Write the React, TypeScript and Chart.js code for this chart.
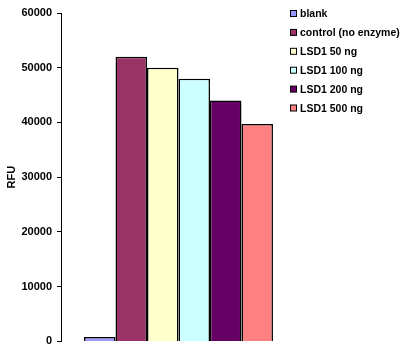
import React, { useEffect, useRef } from "react";
import { Chart, registerables } from "chart.js";

Chart.register(...registerables);

const seriesNames = ["blank", "control (no enzyme)", "LSD1 50 ng", "LSD1 100 ng", "LSD1 200 ng", "LSD1 500 ng"];
const seriesValues = [800, 52000, 50000, 48000, 44000, 39700];
const seriesColors = ["#9999FF", "#993366", "#FFFFCC", "#CCFFFF", "#660066", "#FF8080"];
const categories = [""];
const yTicks = [0, 10000, 20000, 30000, 40000, 50000, 60000];
const yTitle = "RFU";

const FONT = "Arial, 'Liberation Sans', sans-serif";

const legendPlugin = {
  id: "customLegend",
  afterDraw(chart: any) {
    const ctx = chart.ctx;
    ctx.save();
    ctx.font = `bold 10.5px ${FONT}`;
    ctx.textBaseline = "middle";
    ctx.textAlign = "left";
    chart.data.datasets.forEach((ds: any, i: number) => {
      const cy = 14 + i * 18.9;
      ctx.fillStyle = ds.backgroundColor;
      ctx.fillRect(290.5, cy - 3.5, 6, 6);
      ctx.strokeStyle = "#000";
      ctx.lineWidth = 1;
      ctx.strokeRect(290.5, cy - 3.5, 6, 6);
      ctx.fillStyle = "#000";
      ctx.fillText(ds.label, 300, cy + 0.5);
    });
    ctx.restore();
  },
};

export default function App() {
  const ref = useRef<HTMLCanvasElement>(null);
  useEffect(() => {
    document.body.style.margin = "0";
    const chart = new Chart(ref.current!, {
      type: "bar",
      data: {
        labels: categories,
        datasets: seriesNames.map((name, i) => ({
          label: name,
          data: [seriesValues[i]],
          backgroundColor: seriesColors[i],
          borderColor: "#000",
          borderWidth: 1.5,
          categoryPercentage: 0.804,
          barPercentage: 1,
        })),
      },
      options: {
        responsive: false,
        animation: false,
        layout: { padding: { top: 13, bottom: 8, left: 0, right: 104 } },
        plugins: { legend: { display: false }, tooltip: { enabled: false } },
        scales: {
          x: { display: false },
          y: {
            min: 0,
            max: 60000,
            afterFit: (scale: any) => {
              scale.width = 61;
            },
            afterBuildTicks: (scale: any) => {
              scale.ticks = yTicks.map((v) => ({ value: v }));
            },
            ticks: {
              color: "#000",
              font: { family: FONT, size: 11, weight: "bold" },
              padding: 5,
              callback: (v: any) => String(v),
            },
            grid: { drawOnChartArea: false, drawTicks: true, tickLength: 4, color: "#000" },
            border: { display: true, color: "#000", width: 1 },
            title: {
              display: true,
              text: yTitle,
              color: "#000",
              font: { family: FONT, size: 11, weight: "bold" },
              padding: { top: 5, bottom: 0 },
            },
          },
        },
      },
      plugins: [legendPlugin],
    });
    return () => chart.destroy();
  }, []);
  return (
    <div style={{ position: "absolute", left: 0, top: 0, width: 400, height: 353 }}>
      <canvas ref={ref} width={400} height={353} style={{ width: 400, height: 353 }} />
    </div>
  );
}
